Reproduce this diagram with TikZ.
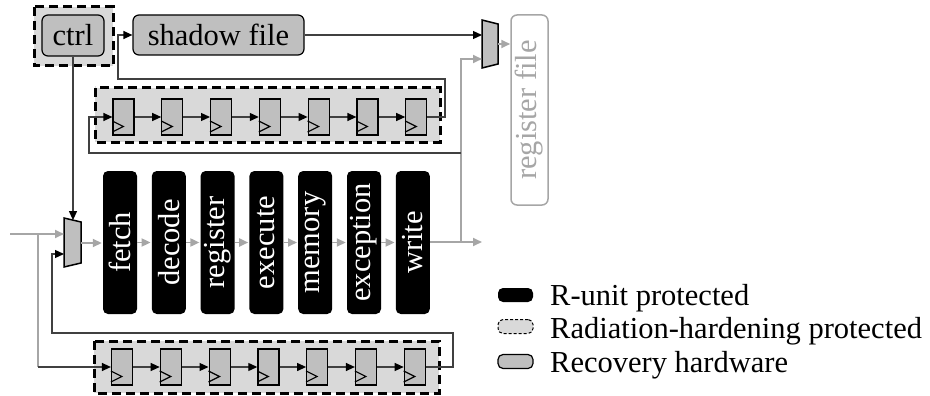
\documentclass[tikz,border=0pt]{standalone}
\usepackage{fontspec}
\setmainfont{Liberation Serif}
\usetikzlibrary{arrows.meta}
\definecolor{lightfill}{HTML}{D9D9D9}
\definecolor{boxfill}{HTML}{BFBFBF}
\definecolor{wirec}{HTML}{404040}
\definecolor{gwirec}{HTML}{A6A6A6}
\tikzset{
  guard/.style={draw=black, line width=3pt, dash pattern=on 9pt off 5pt, fill=lightfill},
  unit/.style={draw=black, line width=1.2pt, fill=boxfill, rounded corners=6pt, inner sep=0pt},
  stage/.style={fill=black, rounded corners=5pt, minimum width=34pt, minimum height=143pt,
    inner sep=0pt, text=white},
  ffbox/.style={draw=black, line width=1.2pt, fill=boxfill, minimum width=21pt,
    minimum height=36pt, inner sep=0pt},
  wire/.style={draw=wirec, line width=1.2pt},
  gwire/.style={draw=gwirec, line width=1.8pt},
  tipk/.style={-{Triangle[length=9pt,width=8pt,fill=black,color=black]}},
  tipg/.style={-{Triangle[length=9pt,width=8pt,fill=gwirec,color=gwirec]}},
  legendicon/.style={minimum width=35pt, minimum height=14pt, rounded corners=5pt, inner sep=0pt},
}
\begin{document}
\begin{tikzpicture}[x=1pt,y=-1pt,font=\fontsize{30.5}{34}\selectfont]
\useasboundingbox (0,0) rectangle (930,396);

% control unit inside its hardened frame
\draw[guard] (34,7) rectangle (113,66);
\node[unit, minimum width=62pt, minimum height=41pt] (ctrl) at (73,35.5) {ctrl};
\node[unit, minimum width=171pt, minimum height=40pt] (shadow) at (218.5,35) {shadow file};

% register file
\node[draw=gwirec, line width=1.5pt, rounded corners=6pt, minimum width=37pt,
  minimum height=190pt, inner sep=0pt, text=gwirec] (regfile) at (529.5,110)
  {\rotatebox{90}{register file}};

% multiplexers
\draw[black, line width=1.5pt, fill=boxfill] (64,218) -- (81,222) -- (81,263) -- (64,267) -- cycle;
\draw[black, line width=1.5pt, fill=boxfill] (482,20) -- (498,24) -- (498,64) -- (482,68) -- cycle;
\coordinate (muxA) at (64,234);
\coordinate (muxB) at (64,254);
\coordinate (muxSel) at (73,220.1);
\coordinate (muxOut) at (81,243);
\coordinate (rmuxA) at (482,35);
\coordinate (rmuxB) at (482,59);
\coordinate (rmuxOut) at (498,44);

% hardened register chains
\draw[guard] (95,88) rectangle (440,142);
\draw[guard] (94,341) rectangle (439,393);
\foreach \i in {1,...,7} {
  \node[ffbox] (t\i) at ({123.5+48.8*(\i-1)},117) {};
  \draw[black, line width=1.2pt] (t\i.west) ++(0,4) -- ++(11,5.5) -- ++(-11,5.5);
  \node[ffbox] (b\i) at ({122+48.8*(\i-1)},367) {};
  \draw[black, line width=1.2pt] (b\i.west) ++(0,4) -- ++(11,5.5) -- ++(-11,5.5);
}
\foreach \i [evaluate=\i as \j using int(\i+1)] in {1,...,6} {
  \draw[wire, tipk] (t\i.east) -- (t\j.west);
  \draw[wire, tipk] (b\i.east) -- (b\j.west);
}

% pipeline stages
\foreach \name [count=\i] in {fetch,decode,register,execute,memory,exception,write} {
  \node[stage] (s\i) at ({120+48.8*(\i-1)},242.5) {\rotatebox{90}{\name}};
}
\foreach \i [evaluate=\i as \j using int(\i+1)] in {1,...,6} {
  \draw[gwire, tipg, shorten >=1pt] (s\i.east) -- (s\j.west);
}
\draw[gwire, tipg, shorten >=1pt] (muxOut) -- (muxOut -| s1.west);

% pipeline output and its branches
\coordinate (pout) at (482,242);
\coordinate (jr) at (461,242);
\coordinate (jt) at (461,153);
\draw[gwire, tipg] (s7.east |- pout) -- (pout);
\draw[gwire, tipg] (jr) |- (rmuxB);
\draw[wire, tipk] (jt) -- (89,153) -- (89,117) -- (t1.west);

% top chain feeds the shadow file
\draw[wire, tipk] (t7.east) -- (445,117) -- (445,79) -- (118,79) |- (shadow.west);
\draw[wire, tipk] (shadow.east) -- (rmuxA);
\draw[gwire, tipg] (rmuxOut) -- (rmuxOut -| regfile.west);

% control select line
\draw[wire, tipk] (ctrl.south) -- (muxSel);

% pipeline input and bottom chain
\coordinate (pin) at (10,234);
\coordinate (jb) at (38,234);
\draw[gwire, tipg] (pin) -- (muxA);
\draw[gwire] (jb) -- (38,367);
\draw[wire, tipk] (38,367) -- (b1.west);
\draw[wire, tipk] (b7.east) -- (453,367) -- (453,333) -- (52,333) |- (muxB);

% legend
\node[legendicon, fill=black] (lg1) at (515.5,295) {};
\node[legendicon, fill=lightfill, draw=black, line width=1pt, dash pattern=on 3pt off 2pt] (lg2) at (515.5,326.5) {};
\node[legendicon, fill=boxfill, draw=black, line width=1.2pt] (lg3) at (515.5,361.5) {};
\node[anchor=base west, inner sep=0pt] (lt1) at (550,305) {R-unit protected};
\node[anchor=base west, inner sep=0pt] (lt2) at (550,338) {Radiation-hardening protected};
\node[anchor=base west, inner sep=0pt] (lt3) at (550,372) {Recovery hardware};
\end{tikzpicture}
\end{document}
